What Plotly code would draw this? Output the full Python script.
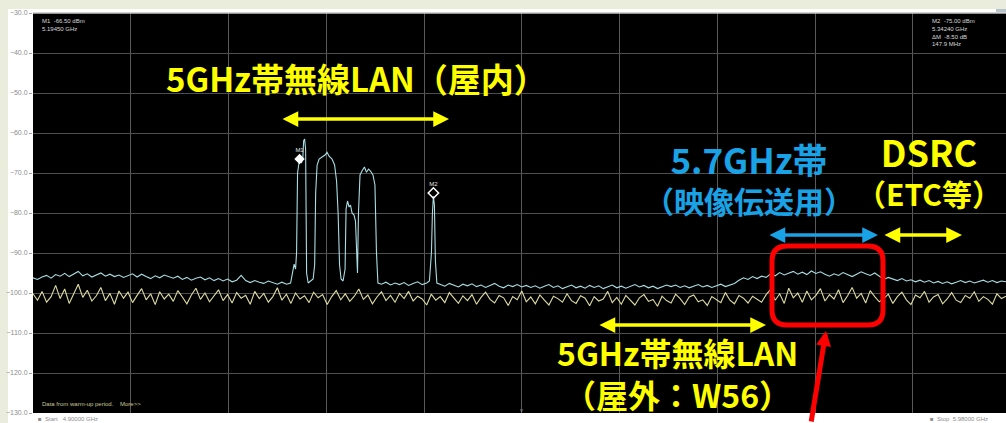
import numpy as np
import plotly.graph_objects as go

# ---- spectrum sweep settings -------------------------------------------
START_GHZ = 4.900
STOP_GHZ = 5.980
STEP_GHZ = 0.005          # spacing of the noise-floor samples below
DIV_GHZ = (STOP_GHZ - START_GHZ) / 10

# Max-hold trace (light cyan), dBm, one value per STEP_GHZ from START_GHZ
max_hold_dbm = [
    -96.2, -96.6, -96.0, -95.6, -96.3, -95.4, -95.8, -95.1, -95.9, -95.3, -94.6,
    -95.7, -95.2, -96.0, -95.4, -95.0, -95.8, -95.3, -95.9, -95.5, -96.1,
    -95.6, -95.2, -96.0, -95.3, -95.9, -96.4, -95.7, -96.2, -95.5, -96.0,
    -96.3, -95.8, -96.6, -96.1, -96.8, -96.3, -96.0, -96.7, -96.2, -96.9,
    -96.4, -97.0, -96.5, -97.2, -96.8, -95.6, -96.9, -97.4, -96.9, -97.3,
    -97.6, -97.0, -97.5, -97.8, -97.3, -97.8,
    -97.2, -97.6, -97.1, -97.5, -97.0, -97.4, -97.8, -97.3, -97.6, -97.1,
    -97.5, -97.9, -97.4, -97.0, -97.6, -97.2, -97.7, -97.3, -97.8, -97.4,
    -97.8, -97.3, -98.0, -97.5, -97.9, -97.4, -98.1, -97.6, -97.2, -97.9, -97.5,
    -97.8, -97.6,
    -97.9, -98.3, -97.6, -98.1, -98.5, -97.8, -98.2, -97.7, -98.4, -98.0, -98.6,
    -98.1, -97.6, -98.3, -98.7, -98.0, -98.4, -97.9, -98.5, -98.1, -98.6,
    -98.2, -98.8, -98.3, -97.9, -98.6, -98.2, -98.9, -98.4, -98.0, -98.7,
    -98.3, -98.8, -98.1, -98.6, -98.2, -98.9, -98.5, -98.0, -98.7, -98.3,
    -98.8, -98.4, -97.9, -98.5, -98.1, -98.7, -98.3, -98.9, -98.4, -98.0,
    -98.4, -98.0, -98.6, -98.2, -98.7, -98.3, -97.9, -98.5, -98.1, -98.6,
    -98.2, -97.8, -98.4, -98.0, -97.6,
    -96.8, -96.2, -96.6, -95.9, -96.4, -95.8, -96.1,
    -95.2, -95.7, -94.9, -95.5, -95.0, -94.6, -95.3, -94.8, -95.4, -94.5,
    -95.1, -94.7, -95.3, -95.8, -95.2, -95.6, -94.9, -95.4, -95.9, -95.3,
    -94.7, -95.2, -95.6, -95.0, -95.9,
    -96.6, -96.1, -96.5, -96.9, -96.4, -97.0, -96.7, -97.2, -96.8, -97.3,
    -96.9, -97.5, -97.1, -97.6, -97.2, -97.7, -97.3, -96.9, -97.4, -97.0,
    -97.5, -97.1, -96.8, -97.3, -96.9, -97.4, -97.0, -97.2,
]

# Live trace (pale yellow), dBm, same sampling
live_dbm = [
    -100.2, -101.8, -99.6, -102.3, -100.9, -98.1, -101.4, -99.0, -102.6, -100.4,
    -97.8, -101.1, -99.3, -102.0, -100.7, -98.6, -101.9, -100.1, -102.8, -99.5,
    -101.3, -99.8, -102.4, -100.6, -98.9, -101.7, -100.2, -102.9, -99.7, -101.5,
    -100.3, -102.1, -99.4, -101.0, -102.7, -100.5, -98.8, -101.6, -100.0, -102.2,
    -100.8, -99.2, -101.9, -100.4, -102.5, -99.9, -101.3, -100.6, -102.8, -99.6,
    -101.4, -100.1, -102.3, -100.9, -98.7, -101.8, -100.3, -102.6, -100.0, -101.5,
    -100.7, -102.4, -99.8, -101.2, -100.4, -102.9, -100.9, -99.4, -101.7, -100.2,
    -102.1, -100.8, -99.0, -101.6, -100.5, -102.7, -101.0, -99.7, -101.9, -100.6,
    -102.3, -100.1, -101.4, -99.6, -102.0, -100.8, -101.5, -103.0, -100.3, -101.8,
    -100.9, -102.4, -99.9, -101.3, -102.6, -100.7, -101.9, -100.4, -102.8, -101.1,
    -99.8, -101.6, -102.5, -100.6, -101.2, -103.1, -100.9, -101.7, -99.5, -102.2,
    -101.0, -102.7, -100.5, -101.8, -103.0, -100.8, -101.4, -102.3, -100.2, -101.9,
    -102.6, -100.7, -101.3, -103.2, -100.9, -102.0, -101.5, -99.6, -102.4, -101.1,
    -102.8, -100.6, -101.7, -103.0, -101.2, -100.4, -102.1, -101.6, -103.3, -100.8,
    -101.9, -102.5, -100.3, -101.4, -102.9, -101.0, -100.5, -102.2, -101.7, -103.1,
    -100.9, -101.6, -102.4, -99.9, -101.8, -102.7, -100.6, -101.3, -102.5, -100.8,
    -101.6, -102.3, -100.4, -99.1, -101.8, -100.2, -102.6, -98.8, -101.2, -100.0,
    -102.3, -99.5, -101.7, -100.6, -98.9, -102.0, -100.4, -101.5, -99.2, -102.4,
    -100.7, -98.6, -101.3, -100.1, -102.5, -99.4, -100.9, -102.2,
    -101.4, -100.3, -102.6, -100.9, -99.8, -101.7, -102.9, -100.5, -101.2, -99.6,
    -102.3, -101.0, -100.4, -102.7, -101.5, -99.9, -101.8, -102.4, -100.6, -101.3,
    -99.7, -102.1, -100.9, -101.6, -102.8, -100.2, -101.4, -100.8,
]

# Indoor W52/W53 wireless LAN bursts seen on the max-hold trace
wlan_burst_ghz = [
    5.1846, 5.1868, 5.1885, 5.1901, 5.1912, 5.1923, 5.1945, 5.1967, 5.1982,
    5.1990, 5.2001, 5.2012, 5.2023, 5.2040, 5.2073, 5.2095, 5.2112, 5.2123,
    5.2139, 5.2161, 5.2194, 5.2227, 5.2249, 5.2271, 5.2304, 5.2332, 5.2354,
    5.2371, 5.2387, 5.2404, 5.2426, 5.2448, 5.2459, 5.2475, 5.2492, 5.2508,
    5.2525, 5.2547, 5.2563, 5.2574, 5.2585, 5.2596, 5.2613, 5.2635, 5.2662,
    5.2684, 5.2707, 5.2729, 5.2756, 5.2778, 5.2795, 5.2811,
]
wlan_burst_dbm = [
    -97.5, -94.5, -92.8, -94.0, -90.0, -70.0, -66.5, -67.5, -66.0,
    -62.0, -61.5, -64.0, -95.0, -97.5, -97.0, -96.5, -93.0, -75.0,
    -68.0, -66.5, -66.0, -65.5, -64.8, -65.8, -66.5, -68.0, -72.0,
    -80.0, -93.0, -96.5, -97.0, -94.0, -79.0, -77.0, -78.5, -78.0,
    -80.0, -80.5, -82.0, -92.0, -95.0, -80.0, -70.5, -69.5, -68.5,
    -69.8, -69.0, -69.5, -70.5, -73.0, -90.0, -97.5,
]
# Narrow carrier marked M2
m2_burst_ghz = [5.3380, 5.3402, 5.3413, 5.3424, 5.3435, 5.3446, 5.3462]
m2_burst_dbm = [-97.0, -90.0, -80.0, -75.8, -78.0, -92.0, -97.5]

# Markers (GHz, dBm)
m1_ghz, m1_dbm = 5.1945, -66.5
m2_ghz, m2_dbm = 5.3424, -75.0

y_ticks = [-30, -40, -50, -60, -70, -80, -90, -100, -110, -120, -130]

# ---- assemble traces ---------------------------------------------------
hold_f = START_GHZ + STEP_GHZ * np.arange(len(max_hold_dbm))
live_f = START_GHZ + STEP_GHZ * np.arange(len(live_dbm))

bursts = [(wlan_burst_ghz, wlan_burst_dbm), (m2_burst_ghz, m2_burst_dbm)]
keep = np.ones(len(hold_f), dtype=bool)
pts_f, pts_v = [], []
for bf, bv in bursts:
    keep &= ~((hold_f >= min(bf)) & (hold_f <= max(bf)))
    pts_f += list(bf)
    pts_v += list(bv)
pts_f += list(hold_f[keep])
pts_v += list(np.array(max_hold_dbm)[keep])
order = np.argsort(pts_f)
hold_x = np.array(pts_f)[order]
hold_y = np.array(pts_v)[order]

# ---- figure geometry ---------------------------------------------------
W, H = 1006, 423
L, T, B = 33, 13, 10
PW, PH = W - L, H - T - B
DIV_PX = 97.75
x_max = START_GHZ + DIV_GHZ * PW / DIV_PX


def px(x):
    return (x - L) / PW


def py(y):
    return (T + PH - y) / PH


YELLOW = "#ffff00"
BLUE = "#1aa2e6"
RED = "#ff0000"
JP_FONT = "Noto Sans CJK JP"

fig = go.Figure()
fig.add_trace(go.Scatter(x=live_f, y=live_dbm, mode="lines",
                         line=dict(color="#dedca2", width=1.1), hoverinfo="skip"))
fig.add_trace(go.Scatter(x=hold_x, y=hold_y, mode="lines",
                         line=dict(color="#a9dde2", width=1.1), hoverinfo="skip"))
fig.add_trace(go.Scatter(x=[m1_ghz], y=[m1_dbm], mode="markers+text", text=["M1"],
                         textposition="top center",
                         textfont=dict(size=6, color="#e0e0e0", family="Arial"),
                         marker=dict(symbol="diamond", size=8, color="white"),
                         hoverinfo="skip"))
fig.add_trace(go.Scatter(x=[m2_ghz], y=[m2_dbm], mode="markers+text", text=["M2"],
                         textposition="top center",
                         textfont=dict(size=6, color="#e0e0e0", family="Arial"),
                         marker=dict(symbol="diamond-open", size=8, color="white",
                                     line=dict(width=1.5, color="white")),
                         hoverinfo="skip"))

shapes = [
    # pale green window frame at the left and top edges
    dict(type="rect", xref="paper", yref="paper", x0=px(0), x1=px(8), y0=py(H), y1=py(0),
         fillcolor="#eaeddc", line_width=0, layer="below"),
    dict(type="rect", xref="paper", yref="paper", x0=px(0), x1=px(W), y0=py(9), y1=py(0),
         fillcolor="#eaeddc", line_width=0, layer="below"),
    dict(type="line", xref="paper", yref="paper", x0=0, x1=1, y0=1, y1=1,
         line=dict(color="#c4c4c4", width=1.5)),
    dict(type="rect", xref="paper", yref="paper", x0=px(996), x1=px(W), y0=py(12), y1=py(9),
         fillcolor="#b8c4cc", line_width=0),
]

# rounded red frame around the 5.7 GHz band
rx0, rx1, ry0, ry1, r = 772, 883, 246, 325, 15
path = (f"M {px(rx0 + r)},{py(ry0)} L {px(rx1 - r)},{py(ry0)} "
        f"Q {px(rx1)},{py(ry0)} {px(rx1)},{py(ry0 + r)} "
        f"L {px(rx1)},{py(ry1 - r)} Q {px(rx1)},{py(ry1)} {px(rx1 - r)},{py(ry1)} "
        f"L {px(rx0 + r)},{py(ry1)} Q {px(rx0)},{py(ry1)} {px(rx0)},{py(ry1 - r)} "
        f"L {px(rx0)},{py(ry0 + r)} Q {px(rx0)},{py(ry0)} {px(rx0 + r)},{py(ry0)} Z")
shapes.append(dict(type="path", xref="paper", yref="paper", path=path,
                   line=dict(color=RED, width=5)))

annotations = []

# band labels: (text, centre x px, centre y px, colour, font size)
band_labels = [
    ("5GHz帯無線LAN（屋内）", 356, 78, YELLOW, 33),
    ("<span style='font-size:35px'>5.7GHz帯</span><br>（映像伝送用）", 749, 177, BLUE, 30),
    ("<span style='font-size:36px'>DSRC</span><br>（ETC等）", 929, 170, YELLOW, 30),
    ("5GHz帯無線LAN<br>（屋外：W56）", 677, 373, YELLOW, 32),
]
for txt, cx, cy, col, size in band_labels:
    annotations.append(dict(text=txt, xref="paper", yref="paper", x=px(cx), y=py(cy),
                            xanchor="center", yanchor="middle", showarrow=False,
                            align="center", borderpad=0,
                            font=dict(family=JP_FONT, size=size, color=col, weight="bold")))

band_arrows = [(281, 449, 119, YELLOW), (768, 878, 235, BLUE),
               (883, 962, 235, YELLOW), (598, 766, 325, YELLOW)]
for x1, x2, y, col in band_arrows:
    annotations.append(dict(text="", xref="paper", yref="paper", x=px(x2), y=py(y),
                            ax=x1 - x2, ay=0, showarrow=True, arrowside="end+start",
                            arrowhead=2, startarrowhead=2, arrowsize=0.9,
                            startarrowsize=0.9, arrowwidth=3.5, arrowcolor=col,
                            standoff=0, startstandoff=0))

# red pointer from below into the framed band
annotations.append(dict(text="", xref="paper", yref="paper", x=px(826), y=py(331),
                        ax=-15, ay=95, showarrow=True, arrowhead=2, arrowsize=0.6,
                        arrowwidth=5, arrowcolor=RED, standoff=0))

small = dict(family="Arial", size=6, color="#d8d8d8")
annotations += [
    dict(text=f"M1  {m1_dbm:.2f} dBm<br>{m1_ghz:.5f} GHz", xref="paper", yref="paper",
         x=px(40), y=py(16), xanchor="left", yanchor="top", showarrow=False,
         align="left", font=small),
    dict(text=(f"M2  {m2_dbm:.2f} dBm<br>{m2_ghz:.5f} GHz<br>"
               f"ΔM  {m2_dbm - m1_dbm:.2f} dB<br>{(m2_ghz - m1_ghz) * 1000:.1f} MHz"),
         xref="paper", yref="paper", x=px(930), y=py(16), xanchor="left", yanchor="top",
         showarrow=False, align="left", font=small),
    dict(text="Data from warm-up period.    More>>", xref="paper", yref="paper",
         x=px(40), y=py(404), xanchor="left", yanchor="middle", showarrow=False,
         font=dict(family="Arial", size=6, color="#c8c890")),
    dict(text=f"■  Start   {START_GHZ:.5f} GHz", xref="paper", yref="paper",
         x=px(36), y=py(419), xanchor="left", yanchor="middle", showarrow=False,
         font=dict(family="Arial", size=6, color="#8c8c8c")),
    dict(text=f"■  Stop  {STOP_GHZ:.5f} GHz", xref="paper", yref="paper",
         x=px(990), y=py(419), xanchor="right", yanchor="middle", showarrow=False,
         font=dict(family="Arial", size=6, color="#8c8c8c")),
    dict(text="v", xref="paper", yref="paper", x=px(521), y=py(410),
         xanchor="center", yanchor="middle", showarrow=False,
         font=dict(family="Arial", size=6, color="#9a9a9a")),
]

fig.update_layout(
    width=W, height=H,
    margin=dict(l=L, r=0, t=T, b=B, pad=0),
    paper_bgcolor="white", plot_bgcolor="black",
    showlegend=False,
    shapes=shapes, annotations=annotations,
    xaxis=dict(range=[START_GHZ, x_max], tick0=START_GHZ, dtick=DIV_GHZ,
               showticklabels=False, ticks="", showgrid=True, gridcolor="#5a5a5a",
               gridwidth=1, zeroline=False, showline=False, fixedrange=True),
    yaxis=dict(range=[-130, -30], tickvals=y_ticks, tickformat=".1f",
               ticks="outside", ticklen=3, tickcolor="#a0a0a0",
               tickfont=dict(family="Arial", size=7, color="#8c8c8c"),
               showgrid=True, gridcolor="#4e4e4e", gridwidth=1,
               zeroline=False, showline=False, fixedrange=True),
)

fig.write_html("out.html")
